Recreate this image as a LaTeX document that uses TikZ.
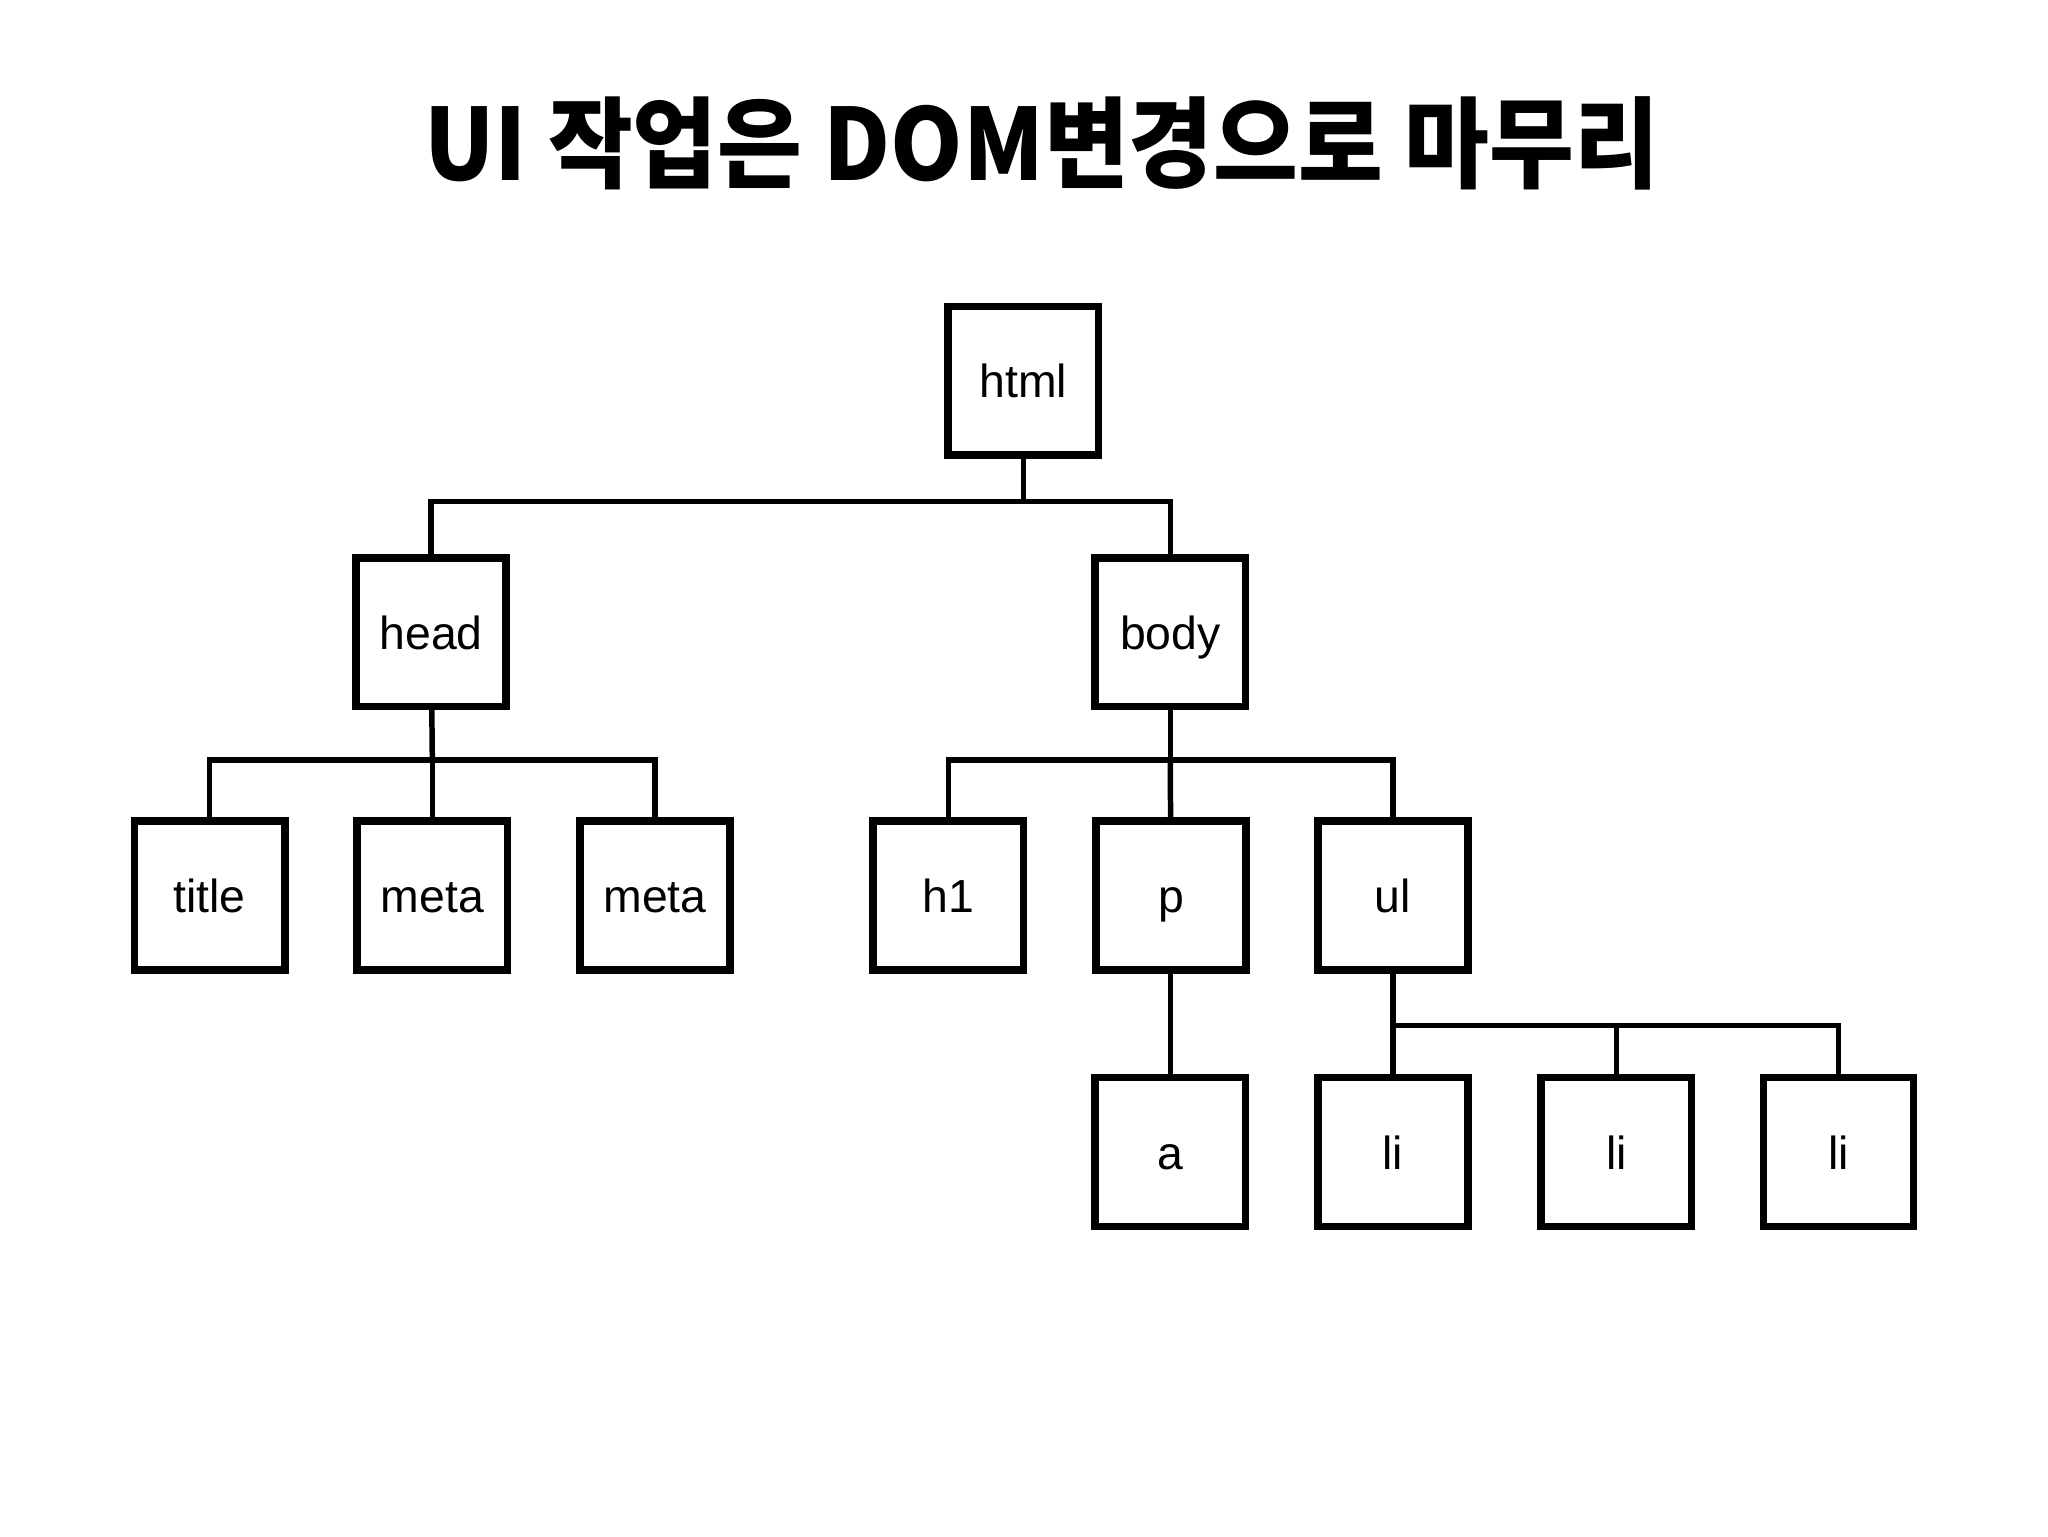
\documentclass[tikz,border=0pt]{standalone}
\usepackage{fontspec}
\usepackage{graphicx}
\setmainfont{Liberation Sans}
\newfontfamily\kr{Noto Sans CJK KR}
\tikzset{
  tagbox/.style={draw=black, line width=5.8pt, fill=white, minimum width=115pt, minimum height=114pt,
    inner sep=0pt, font=\fontsize{35.5}{35.5}\selectfont, text height=26pt, text depth=0pt},
  conn/.style={draw=black, line width=4.2pt, line join=miter}
}
\begin{document}
\begin{tikzpicture}[x=1pt,y=-1pt]
\useasboundingbox (0,0) rectangle (1568,1176);
\fill[white] (0,0) rectangle (1568,1176);
\node (ttl) at (797.5,110) {\resizebox{945pt}{\height}{\kr\bfseries\fontsize{76}{76}\selectfont UI 작업은 DOM변경으로 마무리}};

\coordinate (b1) at (783.5,384);
\coordinate (b2) at (331,582);
\coordinate (b3) at (896,582);
\coordinate (b4) at (1066.5,785);

\draw[conn] (783.5,291.5) -- (b1);
\draw[conn] (330,484) |- (b1) -| (896,484);
\draw[conn] (330,484) -- (b2);
\draw[conn] (160.5,685.5) |- (b2) -| (501.5,685.5);
\draw[conn] (331,685.5) -- (b2);
\draw[conn] (896,484) -- (b3);
\draw[conn] (726,685.5) |- (b3) -| (1066.5,685.5);
\draw[conn] (896.5,685.5) -- (b3);
\draw[conn] (896,685.5) -- (896,882);
\draw[conn] (1066.5,685.5) -- (b4);
\draw[conn] (1066.5,882) |- (b4) -| (1407.5,882);
\draw[conn] (1237.5,882) -- (1237.5,785);

\node[tagbox] (html) at (783.5,291.5) {html};
\node[tagbox] (head) at (330,484) {head};
\node[tagbox] (body) at (896,484) {body};
\node[tagbox] (title) at (160.5,685.5) {title};
\node[tagbox] (meta1) at (331,685.5) {meta};
\node[tagbox] (meta2) at (501.5,685.5) {meta};
\node[tagbox] (h1) at (726,685.5) {h1};
\node[tagbox] (p) at (896.5,685.5) {p};
\node[tagbox] (ul) at (1066.5,685.5) {ul};
\node[tagbox] (a) at (896,882) {a};
\node[tagbox] (li1) at (1066.5,882) {li};
\node[tagbox] (li2) at (1237.5,882) {li};
\node[tagbox] (li3) at (1407.5,882) {li};
\end{tikzpicture}
\end{document}
